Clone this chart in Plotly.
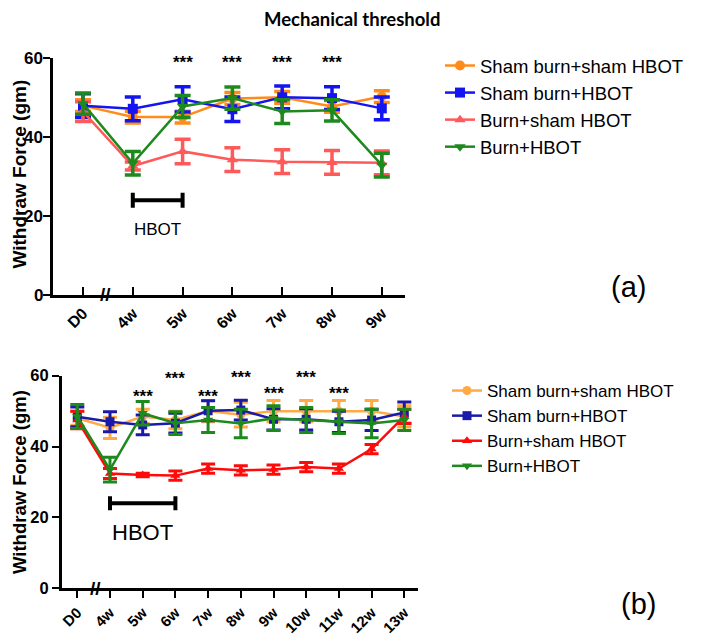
import plotly.graph_objects as go

# ---------------- Data ----------------
series_names = ["Sham burn+sham HBOT", "Sham burn+HBOT", "Burn+sham HBOT", "Burn+HBOT"]
y_title = "Withdraw Force (gm)"

a_cats = ["D0", "4w", "5w", "6w", "7w", "8w", "9w"]
a_sham_sham = [48.0, 45.1, 45.1, 49.8, 50.1, 47.8, 50.3]
a_sham_sham_err = [1.5, 1.5, 1.5, 1.5, 1.5, 1.5, 1.5]
a_sham_hbot = [48.0, 47.2, 49.6, 47.1, 50.1, 49.9, 47.3]
a_sham_hbot_err = [3.0, 3.0, 3.2, 3.1, 2.9, 2.9, 2.9]
a_burn_sham = [46.5, 32.7, 36.4, 34.3, 33.8, 33.6, 33.5]
a_burn_sham_err = [2.5, 1.0, 3.1, 3.0, 3.0, 3.0, 3.0]
a_burn_hbot = [48.5, 33.4, 47.8, 49.9, 46.5, 46.8, 32.9]
a_burn_hbot_err = [2.7, 3.0, 2.8, 2.8, 3.0, 2.7, 3.0]
a_star_cats = ["5w", "6w", "7w", "8w"]
a_star_y = [59.6, 59.6, 59.6, 59.6]

b_cats = ["D0", "4w", "5w", "6w", "7w", "8w", "9w", "10w", "11w", "12w", "13w"]
b_sham_sham = [48.0, 45.3, 48.5, 47.5, 50.0, 49.0, 50.0, 50.0, 50.0, 50.0, 48.5]
b_sham_sham_err = [2.0, 3.0, 2.0, 2.5, 3.0, 3.5, 3.0, 3.0, 3.0, 3.0, 3.0]
b_sham_hbot = [48.4, 47.0, 46.1, 46.6, 50.1, 50.3, 47.7, 47.7, 47.0, 47.5, 49.6]
b_sham_hbot_err = [2.8, 2.8, 2.8, 2.8, 2.8, 2.8, 3.0, 3.0, 3.0, 3.0, 3.0]
b_burn_sham = [47.5, 32.4, 32.0, 31.8, 33.8, 33.3, 33.5, 34.2, 33.8, 39.3, 48.5]
b_burn_sham_err = [2.5, 1.4, 0.5, 1.3, 1.3, 1.3, 1.3, 1.3, 1.3, 1.3, 2.0]
b_burn_hbot = [48.5, 33.5, 49.4, 46.6, 47.5, 46.5, 48.0, 47.5, 47.0, 46.5, 47.5]
b_burn_hbot_err = [3.4, 3.5, 3.3, 3.2, 3.5, 4.0, 3.5, 3.5, 3.3, 4.0, 3.0]
b_star_cats = ["5w", "6w", "7w", "8w", "9w", "10w", "11w"]
b_star_y = [55.3, 60.2, 55.3, 60.7, 56.0, 60.7, 56.2]

y_ticks = [0, 20, 40, 60]
Y_MAX = 60

# ---------------- Styling ----------------
WIN_W, WIN_H = 705, 636
PAGE_MARGIN = 8  # browser body margin
W, H = WIN_W - PAGE_MARGIN, WIN_H - PAGE_MARGIN
FONT = "Liberation Sans, Arial, sans-serif"
a_colors = ["#FF8C1A", "#1414F0", "#FF5A5A", "#1E8A1E"]
b_colors = ["#FFAA44", "#1A1AAA", "#FF0A0A", "#1E8A1E"]
symbols = ["circle", "square", "triangle-up", "triangle-down"]


def px_x(p):
    """window pixel x -> paper fraction"""
    return (p - PAGE_MARGIN) / W


def px_y(p):
    """window pixel y (from top) -> paper fraction"""
    return 1 - (p - PAGE_MARGIN) / H


fig = go.Figure()

a_vals = [(a_sham_sham, a_sham_sham_err), (a_sham_hbot, a_sham_hbot_err),
          (a_burn_sham, a_burn_sham_err), (a_burn_hbot, a_burn_hbot_err)]
b_vals = [(b_sham_sham, b_sham_sham_err), (b_sham_hbot, b_sham_hbot_err),
          (b_burn_sham, b_burn_sham_err), (b_burn_hbot, b_burn_hbot_err)]

for i, (vals, errs) in enumerate(a_vals):
    fig.add_trace(go.Scatter(
        x=a_cats, y=vals, name=series_names[i], mode="lines+markers",
        line=dict(color=a_colors[i], width=2.5),
        marker=dict(symbol=symbols[i], size=10, color=a_colors[i]),
        error_y=dict(type="data", array=errs, visible=True, color=a_colors[i], thickness=3.5, width=8),
        xaxis="x", yaxis="y", legend="legend", cliponaxis=False,
    ))

for i, (vals, errs) in enumerate(b_vals):
    fig.add_trace(go.Scatter(
        x=b_cats, y=vals, name=series_names[i], mode="lines+markers",
        line=dict(color=b_colors[i], width=2.5),
        marker=dict(symbol=symbols[i], size=9, color=b_colors[i]),
        error_y=dict(type="data", array=errs, visible=True, color=b_colors[i], thickness=3, width=7),
        xaxis="x2", yaxis="y2", legend="legend2", cliponaxis=False,
    ))

# axis geometry (window pixels)
a_x0, a_x1, a_ytop, a_ybot = 53, 405, 58.3, 295
b_x0, b_x1, b_ytop, b_ybot = 61.7, 418, 375.7, 588.3
a_step = 49.8
b_step = 32.7
a_first = 83
b_first = 77.3

axis_common = dict(showline=True, linecolor="black", linewidth=2.5, showgrid=False,
                   zeroline=False, ticks="outside", tickcolor="black", tickwidth=2,
                   ticklen=7, automargin=False, ticklabeloverflow="allow")

fig.update_layout(
    width=W, height=H, margin=dict(l=0, r=0, t=0, b=0, autoexpand=False),
    paper_bgcolor="white", plot_bgcolor="white",
    font=dict(family=FONT, color="black"),
    xaxis=dict(**{**axis_common, "ticks": "inside", "ticklen": 8},
               domain=[px_x(a_x0), px_x(a_x1)], anchor="y",
               type="category", categoryorder="array", categoryarray=a_cats,
               range=[(a_x0 - a_first) / a_step, (a_x1 - a_first) / a_step],
               tickangle=-45, tickfont=dict(size=16, weight="bold", family=FONT)),
    yaxis=dict(**axis_common, domain=[px_y(a_ybot), px_y(a_ytop)], anchor="x",
               range=[0, Y_MAX], tickvals=y_ticks, showticklabels=False),
    xaxis2=dict(**axis_common, domain=[px_x(b_x0), px_x(b_x1)], anchor="y2",
                type="category", categoryorder="array", categoryarray=b_cats,
                range=[(b_x0 - b_first) / b_step, (b_x1 - b_first) / b_step],
                tickangle=-45, tickfont=dict(size=15, weight="bold", family=FONT)),
    yaxis2=dict(**axis_common, domain=[px_y(b_ybot), px_y(b_ytop)], anchor="x2",
                range=[0, Y_MAX], tickvals=y_ticks, ticktext=[str(v) for v in y_ticks],
                tickfont=dict(size=16.5, weight="bold", family=FONT)),
    legend=dict(x=px_x(440), y=px_y(47), xanchor="left", yanchor="top",
                font=dict(size=18.5, family=FONT), bgcolor="rgba(0,0,0,0)"),
    legend2=dict(x=px_x(447), y=px_y(373), xanchor="left", yanchor="top",
                 font=dict(size=17, family=FONT), bgcolor="rgba(0,0,0,0)"),
    showlegend=True,
)

annotations = [
    dict(text="<b>Mechanical threshold</b>", x=px_x(352), y=px_y(19), xref="paper", yref="paper",
         xanchor="center", yanchor="middle",
         showarrow=False, font=dict(size=18.5, family="Lato, sans-serif")),
    dict(text="<b>" + y_title + "</b>", x=px_x(18.5), y=px_y(174), xref="paper", yref="paper",
         xanchor="center", yanchor="middle", textangle=-90,
         showarrow=False, font=dict(size=19, family=FONT)),
    dict(text="<b>" + y_title + "</b>", x=px_x(19), y=px_y(482), xref="paper", yref="paper",
         xanchor="center", yanchor="middle", textangle=-90,
         showarrow=False, font=dict(size=18.5, family=FONT)),
    dict(text="(a)", x=px_x(628), y=px_y(287), xref="paper", yref="paper",
         xanchor="center", yanchor="middle",
         showarrow=False, font=dict(size=29, family=FONT)),
    dict(text="(b)", x=px_x(638), y=px_y(604), xref="paper", yref="paper",
         xanchor="center", yanchor="middle",
         showarrow=False, font=dict(size=29, family=FONT)),
    dict(text="HBOT", x=1.5, y=16.5, xref="x", yref="y", showarrow=False,
         font=dict(size=17, family=FONT)),
    dict(text="HBOT", x=2.0, y=15.8, xref="x2", yref="y2", showarrow=False,
         font=dict(size=22, family=FONT)),
    dict(text="<b>//</b>", x=0.45, y=0, xref="x", yref="y", showarrow=False,
         font=dict(size=19, family=FONT)),
    dict(text="<b>//</b>", x=0.55, y=0, xref="x2", yref="y2", showarrow=False,
         font=dict(size=19, family=FONT)),
]
# panel (a) y tick labels
for v in y_ticks:
    annotations.append(dict(text="<b>%d</b>" % v, x=px_x(a_x0 - 8), y=v / Y_MAX,
                            xref="paper", yref="y domain", xanchor="right", yanchor="middle",
                            showarrow=False, font=dict(size=17, family=FONT)))
for c, yv in zip(a_star_cats, a_star_y):
    annotations.append(dict(text="<b>***</b>", x=c, y=yv / Y_MAX, xref="x", yref="y domain",
                            showarrow=False, yanchor="middle", yshift=-3,
                            font=dict(size=17, family=FONT)))
for c, yv in zip(b_star_cats, b_star_y):
    annotations.append(dict(text="<b>***</b>", x=c, y=yv / Y_MAX, xref="x2", yref="y2 domain",
                            showarrow=False, yanchor="middle", yshift=-4,
                            font=dict(size=17, family=FONT)))
fig.update_layout(annotations=annotations)

# HBOT treatment bars
shapes = []
for (xr, yr, c0, c1, yv, cap) in [("x", "y", a_cats[1], a_cats[2], 24, 1.9),
                                  ("x2", "y2", b_cats[1], b_cats[3], 24, 2.0)]:
    shapes.append(dict(type="line", xref=xr, yref=yr, x0=c0, x1=c1, y0=yv, y1=yv,
                       line=dict(color="black", width=4)))
    for c in (c0, c1):
        shapes.append(dict(type="line", xref=xr, yref=yr, x0=c, x1=c, y0=yv - cap, y1=yv + cap,
                           line=dict(color="black", width=4)))
fig.update_layout(shapes=shapes)

fig.write_html("out.html")
